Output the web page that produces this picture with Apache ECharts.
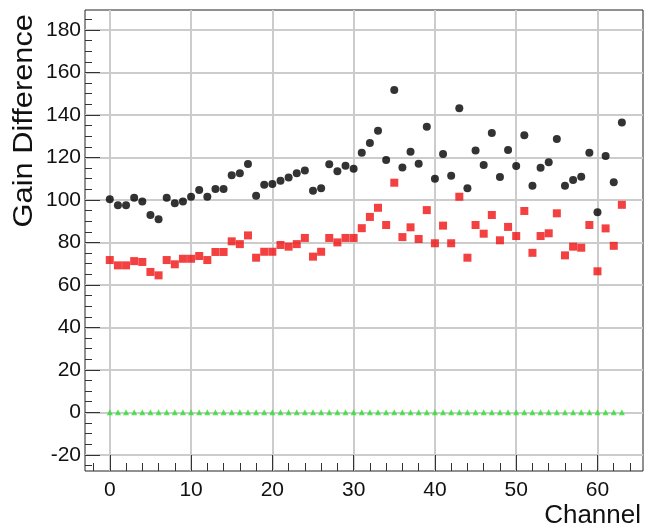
<!DOCTYPE html>
<html>
<head>
<meta charset="utf-8">
<script src="https://cdn.jsdelivr.net/npm/echarts@6/dist/echarts.min.js"></script>
<style>
html,body{margin:0;padding:0;background:#fff;}
#chart{width:647px;height:530px;}
</style>
</head>
<body>
<div id="chart"></div>
<script>
const channels = Array.from({length: 64}, (_, i) => i);
const blackValues = [100.3, 97.5, 97.5, 101.0, 99.2, 92.9, 90.9, 101.0, 98.4, 99.2,
  101.5, 104.7, 101.5, 105.1, 105.1, 111.6, 112.5, 116.9, 102.0, 107.2,
  107.5, 109.0, 110.6, 112.5, 113.8, 104.3, 105.5, 116.8, 113.5, 116.1,
  114.7, 122.2, 126.8, 132.6, 118.8, 151.7, 115.3, 122.7, 117.0, 134.5,
  110.0, 121.6, 111.4, 143.1, 105.5, 123.3, 116.4, 131.5, 110.8, 123.5,
  116.0, 130.4, 106.7, 115.2, 117.7, 128.7, 106.7, 109.4, 110.9, 122.2,
  94.2, 120.7, 108.3, 136.5];
const redValues = [71.7, 69.2, 69.2, 71.2, 70.8, 66.1, 64.5, 71.7, 69.7, 72.3,
  72.3, 73.6, 71.7, 75.5, 75.5, 80.5, 79.2, 83.3, 72.8, 75.6,
  75.6, 78.8, 78.0, 79.2, 82.1, 73.3, 75.6, 82.1, 80.0, 82.1,
  82.1, 86.7, 92.0, 96.3, 88.2, 108.1, 82.5, 87.1, 81.6, 95.2,
  79.6, 87.9, 79.6, 101.5, 72.8, 88.2, 84.1, 92.9, 81.0, 87.3,
  83.0, 94.8, 75.1, 83.0, 84.3, 93.7, 73.9, 78.0, 77.5, 88.2,
  66.4, 86.6, 78.4, 97.7];
const greenValues = channels.map(() => 0);

const xMajorTicks = [0, 10, 20, 30, 40, 50, 60];
const xMinorTicks = [-2, 2, 4, 6, 8, 12, 14, 16, 18, 22, 24, 26, 28, 32, 34, 36, 38, 42, 44, 46, 48, 52, 54, 56, 58, 62, 64];
const yMajorTicks = [-20, 0, 20, 40, 60, 80, 100, 120, 140, 160, 180];
const yMinorTicks = [-25, -15, -10, -5, 5, 10, 15, 25, 30, 35, 45, 50, 55, 65, 70, 75, 85, 90, 95, 105, 110, 115, 125, 130, 135, 145, 150, 155, 165, 170, 175, 185];

const X_MIN = -3.05, X_MAX = 65.6, Y_MIN = -27.6, Y_MAX = 189.4;
const FONT = 'Liberation Sans';
const GRID_H = 461, GRID_W = 558;

function xAxisBase(extra) {
  return Object.assign({
    type: 'value', min: X_MIN, max: X_MAX, position: 'bottom',
    axisLine: {show: false, onZero: false},
    axisLabel: {show: false}, axisTick: {show: false},
    splitLine: {show: false}, minorTick: {show: false}
  }, extra);
}
function yAxisBase(extra) {
  return Object.assign({
    type: 'value', min: Y_MIN, max: Y_MAX, position: 'left',
    axisLine: {show: false, onZero: false},
    axisLabel: {show: false}, axisTick: {show: false},
    splitLine: {show: false}, minorTick: {show: false}
  }, extra);
}

const chart = echarts.init(document.getElementById('chart'), null, {renderer: 'canvas'});
chart.setOption({
  animation: false,
  backgroundColor: '#fff',
  grid: {left: 85, top: 10, width: GRID_W, height: GRID_H, show: true, borderColor: '#222', borderWidth: 1, backgroundColor: 'transparent'},
  xAxis: [
    xAxisBase({axisTick: {show: true, inside: true, length: GRID_H, customValues: xMajorTicks, lineStyle: {color: '#cccccc', width: 2}}}),
    xAxisBase({axisTick: {show: true, inside: true, length: 8, customValues: xMinorTicks, lineStyle: {color: '#333', width: 1}}}),
    xAxisBase({
      axisTick: {show: true, inside: true, length: 16, customValues: xMajorTicks, lineStyle: {color: '#333', width: 1}},
      axisLabel: {show: true, customValues: xMajorTicks, margin: 9, fontFamily: FONT, fontSize: 21, color: '#111'}
    })
  ],
  yAxis: [
    yAxisBase({axisTick: {show: true, inside: true, length: GRID_W, customValues: yMajorTicks, lineStyle: {color: '#cccccc', width: 2}}}),
    yAxisBase({axisTick: {show: true, inside: true, length: 7, customValues: yMinorTicks, lineStyle: {color: '#333', width: 1}}}),
    yAxisBase({
      axisTick: {show: true, inside: true, length: 15, customValues: yMajorTicks, lineStyle: {color: '#333', width: 1}},
      axisLabel: {show: true, customValues: yMajorTicks, margin: 4, fontFamily: FONT, fontSize: 21, color: '#111'}
    })
  ],
  graphic: [
    {type: 'text', x: 24, y: 14, rotation: Math.PI / 2, scaleX: 1.1,
     style: {text: 'Gain Difference', font: '28px "Liberation Sans"', fill: '#111', align: 'right', verticalAlign: 'middle'}},
    {type: 'text', x: 641, y: 516,
     style: {text: 'Channel', font: '26px "Liberation Sans"', fill: '#111', align: 'right', verticalAlign: 'middle'}}
  ],
  series: [
    {type: 'scatter', xAxisIndex: 2, yAxisIndex: 2, symbol: 'triangle', symbolSize: 6,
     itemStyle: {color: '#2be02b'}, data: channels.map((c, i) => [c, greenValues[i]])},
    {type: 'scatter', xAxisIndex: 2, yAxisIndex: 2, symbol: 'circle', symbolSize: 8,
     itemStyle: {color: '#000'}, data: channels.map((c, i) => [c, blackValues[i]])},
    {type: 'scatter', xAxisIndex: 2, yAxisIndex: 2, symbol: 'rect', symbolSize: 8,
     itemStyle: {color: '#f01010'}, data: channels.map((c, i) => [c, redValues[i]])}
  ]
});
</script>
</body>
</html>
